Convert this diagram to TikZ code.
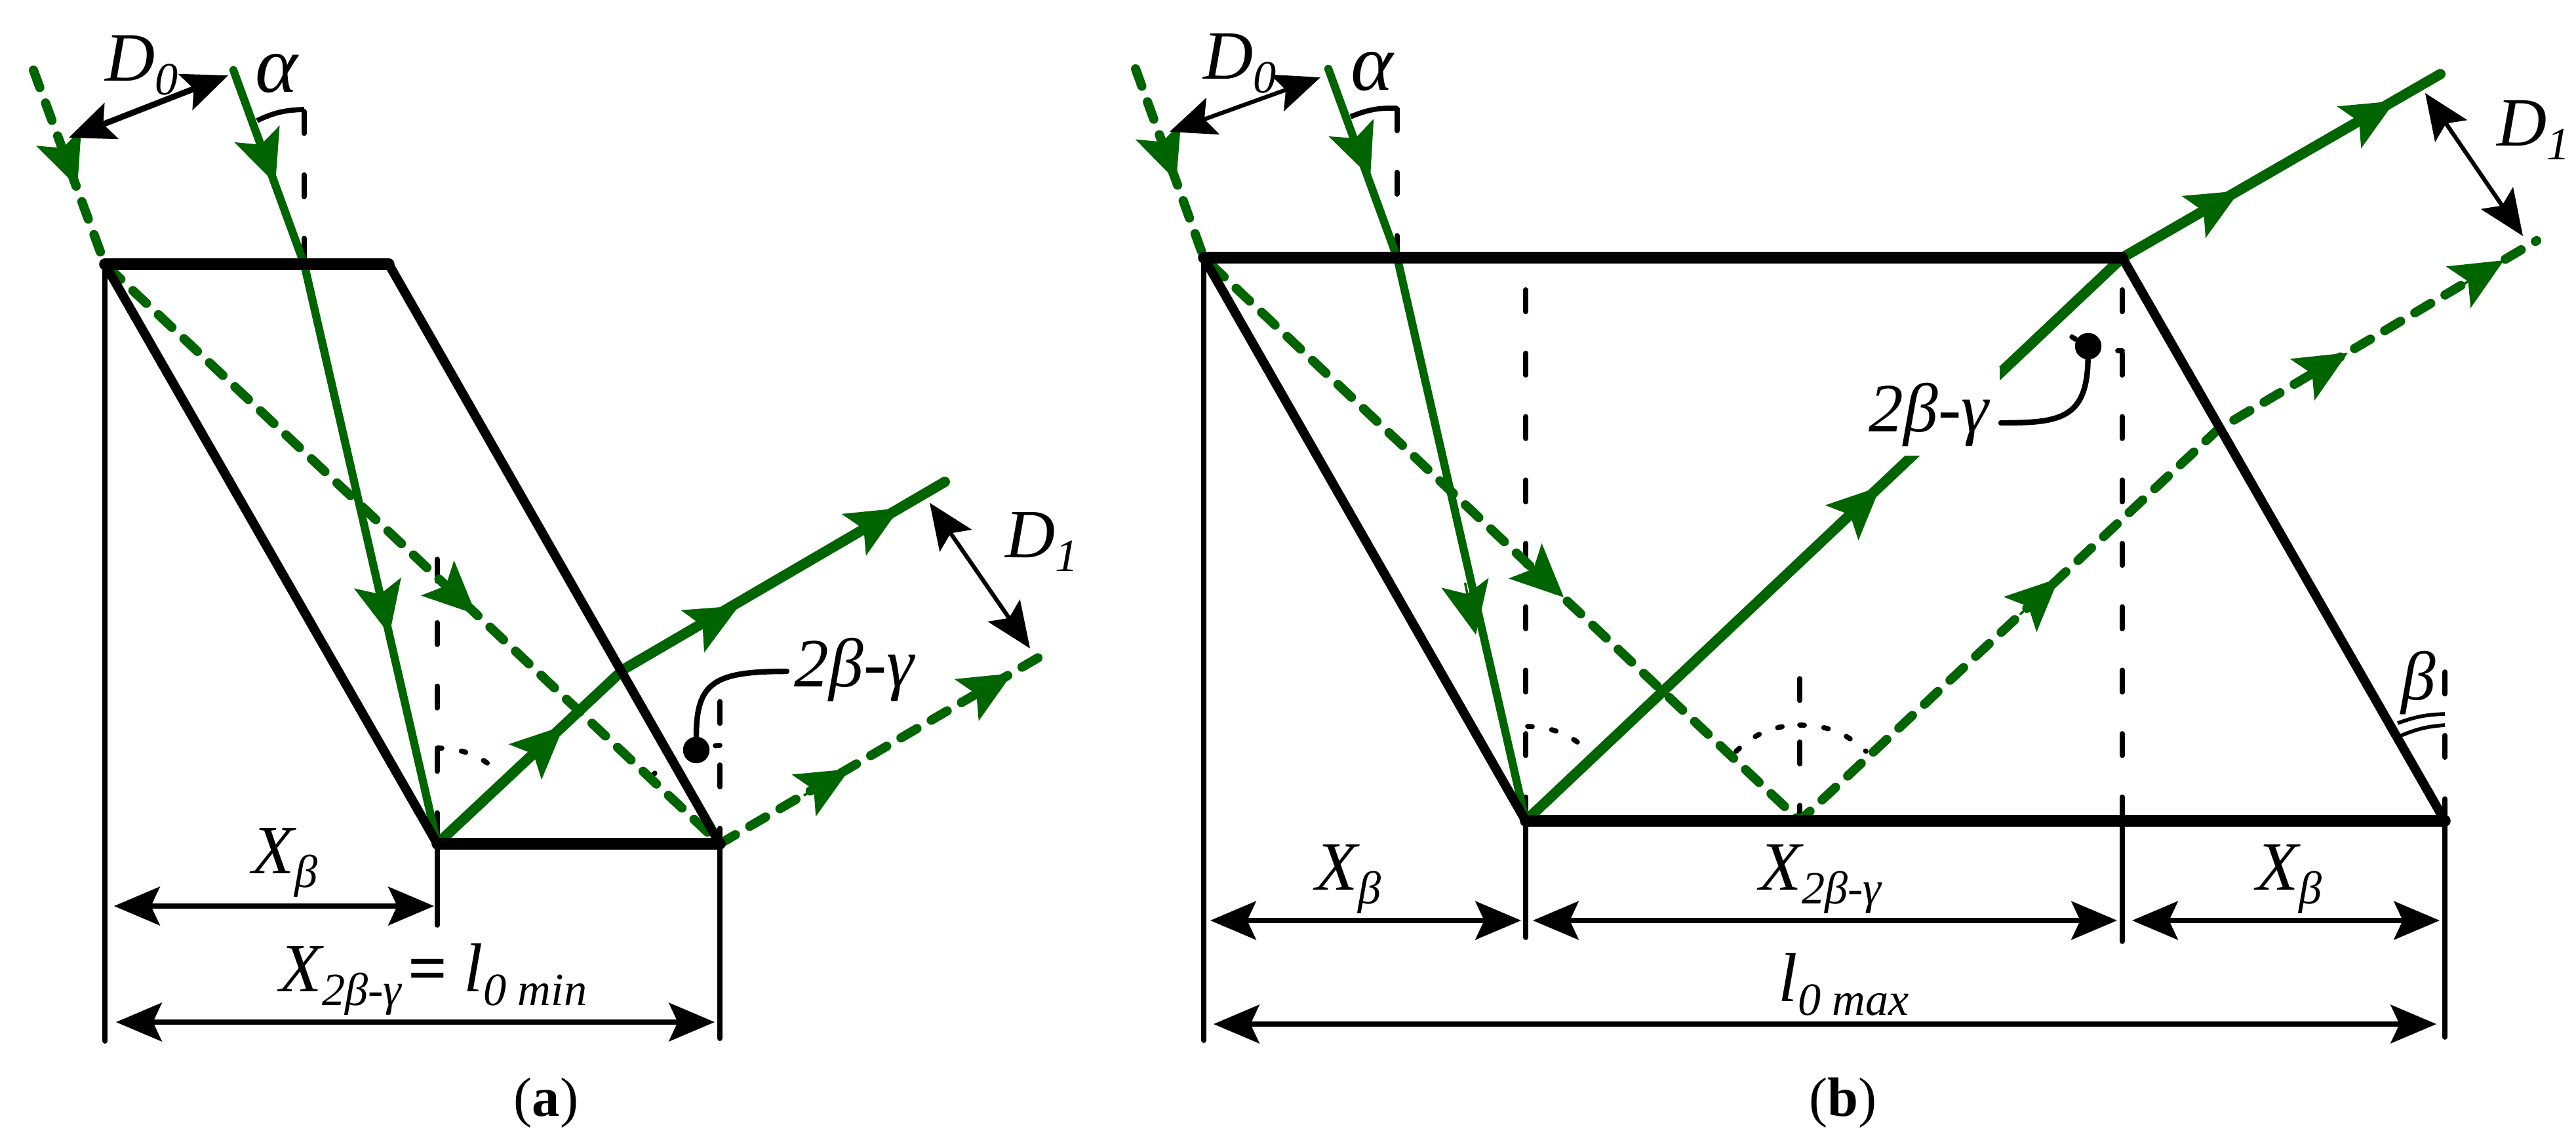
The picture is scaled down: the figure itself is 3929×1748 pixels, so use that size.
\documentclass[tikz,border=0pt]{standalone}
\usepackage{fontspec}
\setmainfont{Liberation Serif}
\usetikzlibrary{arrows.meta,calc}
\definecolor{beam}{RGB}{0,100,0}
\newcommand\bigtxt{\fontsize{30}{30}\selectfont\itshape}
\newcommand\subtxt[1]{\raisebox{-6pt}{\fontsize{20}{20}\selectfont\itshape #1}}
\tikzset{
  dimtip/.tip={Stealth[length=20pt,width=17pt,inset=4pt,line width=0pt]},
  lbl/.style={inner sep=0pt,anchor=base west,font=\bigtxt},
  capt/.style={inner sep=0pt,font=\fontsize{24}{24}\selectfont},
  prismthick/.style={line width=5pt,line cap=round,line join=round},
  prismthin/.style={line width=4pt,line cap=round,line join=round},
  beamin/.style={draw=beam,line width=3.5pt,line cap=round,line join=round},
  beamout/.style={draw=beam,line width=4.5pt,line cap=round,line join=round},
  beamdash/.style={draw=beam,line width=4pt,line cap=round,line join=round,dash pattern=on 8pt off 7.2pt},
  ext/.style={line width=2.2pt,line cap=round},
  cdash/.style={line width=2.2pt,line cap=round,dash pattern=on 9.5pt off 18pt},
  cdot/.style={line width=2.2pt,line cap=round,dash pattern=on 2pt off 8.5pt},
  solidarc/.style={line width=2.2pt},
  dimarrow/.style={line width=2.2pt,dimtip-dimtip},
  gaparrow/.style={line width=2.6pt,dimtip-dimtip},
  gaparrowthin/.style={line width=1.8pt,dimtip-dimtip},
  headtip/.style={draw=beam,line width=1pt,-{Stealth[length=23pt,width=21pt,inset=5pt,line width=0pt,fill=beam]}},
  pin/.style={circle,fill=black,inner sep=0pt,minimum size=11.5pt},
  leader/.style={line width=2.4pt,line cap=round},
}
\newcommand\beamhead[2]{\draw[headtip] ($(#2)!23pt!(#1)$) -- (#2);}
\begin{document}
\begin{tikzpicture}[x=0.01cm,y=-0.01cm]
\useasboundingbox (0,0) rectangle (3929,1748);
% ===== panel (a) =====
\coordinate (aTL) at (160,403);
\coordinate (aTR) at (593,403);
\coordinate (aBL) at (667,1287);
\coordinate (aBR) at (1098,1287);
\coordinate (aS0) at (356,107);
\coordinate (aS1) at (464,403);
\coordinate (aS2) at (951,1021);
\coordinate (aS3) at (1441,735);
\coordinate (aD0) at (51,107);
\coordinate (aD3) at (1594,997);
% extension lines
\coordinate (aE1) at (160,1588);
\coordinate (aE2) at (667,1411);
\coordinate (aE3) at (1098,1584);
\draw[ext] (aTL) -- (aE1);
\draw[ext] (aBL) -- (aE2);
\draw[ext] (aBR) -- (aE3);
\draw[cdash] (667,853) -- (aBL);
\draw[cdash] (1098,1070) -- (aBR);
\draw[cdash] (464,170) -- (aS1);
% angle marks
\draw[solidarc] (464,167) to[bend right=12] (392,184);
\draw[cdot] (667,1141) to[bend left=21] (764,1181);
\draw[cdot] (1098,1137) to[bend right=21] (997,1181);
% beams
\draw[beamdash] (aD0) -- (aTL) -- (aBR) -- (aD3);
\draw[beamin] (aS0) -- (aS1) -- (aBL);
\draw[beamout] (aBL) -- (aS2) -- (aS3);
% heads
\beamhead{aD0}{118,285}
\beamhead{aS0}{420,280}
\beamhead{aS1}{594,968}
\beamhead{aTL}{726,937}
\beamhead{aBL}{860,1107}
\beamhead{aS2}{1127,924}
\beamhead{aS2}{1372,775}
\beamhead{aBR}{1296,1173}
\beamhead{aBR}{1544,1027}
% prism
\draw[prismthin] (aTL) -- (aBL);
\draw[prismthin] (aTR) -- (aBR);
\draw[prismthick] (aTL) -- (aTR);
\draw[prismthick] (aBL) -- (aBR);
% dimensions
\coordinate (aA1) at (174,1382);
\coordinate (aA2) at (662,1382);
\coordinate (aB1) at (177,1559);
\coordinate (aB2) at (1090,1559);
\draw[dimarrow] (aA1) -- (aA2);
\draw[dimarrow] (aB1) -- (aB2);
\coordinate (aG1) at (105,210);
\coordinate (aG2) at (348,115);
\draw[gaparrow] (aG1) -- (aG2);
\coordinate (aH1) at (1418,767);
\coordinate (aH2) at (1571,989);
\draw[gaparrowthin] (aH1) -- (aH2);
% labels
\node[lbl] (aD0t) at (160,123) {D\subtxt{0}};
\node[lbl,font=\fontsize{35}{35}\selectfont\itshape] (aAlpha) at (389,140) {α};
\node[lbl] (aD1t) at (1533,850) {D\subtxt{1}};
\node[lbl] (aXb) at (384,1332) {X\subtxt{β}};
\node[lbl] (aX2) at (426,1512) {X\subtxt{2β-γ}};
\node[lbl,font=\fontsize{30}{30}\selectfont\bfseries] (aEq) at (622,1512) {=};
\node[lbl] (aL) at (707,1512) {l\subtxt{0 min}};
\node[lbl] (a2b) at (1211,1047) {2β-γ};
\node[pin] (aPin) at (1062,1144) {};
\coordinate (aLeadEnd) at (1200,1024);
\draw[leader] (aPin) .. controls (1062,1040) and (1090,1024) .. (aLeadEnd);
\node[capt] (capA) at (833,1682) {(\textbf{a})};
% ===== panel (b) =====
\coordinate (bTL) at (1836,393);
\coordinate (bTR) at (3237,393);
\coordinate (bBL) at (2327,1252);
\coordinate (bBM) at (2745,1252);
\coordinate (bBX) at (3237,1252);
\coordinate (bBR) at (3729,1252);
\coordinate (bS0) at (2026,105);
\coordinate (bS1) at (2131,393);
\coordinate (bS3) at (3722,113);
\coordinate (bD0) at (1732,105);
\coordinate (bD2) at (3383,655);
\coordinate (bD3) at (3869,367);
\coordinate (bE1) at (1836,1587);
\coordinate (bE2) at (2327,1430);
\coordinate (bE3) at (3237,1436);
\coordinate (bE4) at (3729,1582);
\draw[ext] (bTL) -- (bE1);
\draw[ext] (bBL) -- (bE2);
\draw[ext] (bBX) -- (bE3);
\draw[ext] (bBR) -- (bE4);
\draw[cdash] (2327,442) -- (bBL);
\draw[cdash] (3237,442) -- (bBX);
\draw[cdash] (2745,1035) -- (bBM);
\draw[cdash] (3729,1025) -- (bBR);
\draw[cdash] (2131,166) -- (bS1);
\draw[solidarc] (2131,165) to[bend right=12] (2060,178);
\draw[cdot] (2330,1108) to[bend left=21] (2426,1149);
\draw[cdot] (2648,1146) to[bend left=21] (2745,1106);
\draw[cdot] (2745,1106) to[bend left=21] (2846,1146);
\draw[cdot] (3237,535) to[bend left=20] (3138,497);
\draw[solidarc,line width=1.6pt] (3657,1103) to[bend left=9] (3729,1089);
\draw[solidarc,line width=1.6pt] (3662,1122) to[bend left=9] (3729,1106);
\draw[beamdash] (bD0) -- (bTL) -- (bBM) -- (bD2) -- (bD3);
\draw[beamin] (bS0) -- (bS1) -- (bBL);
\draw[beamout] (bBL) -- (bTR) -- (bS3);
\fill[white] (2845,560) rectangle (3050,695);
\beamhead{bD0}{1794,276}
\beamhead{bS0}{2090,270}
\beamhead{bS1}{2251,968}
\beamhead{bTL}{2385,911}
\beamhead{bBL}{2868,742}
\beamhead{bTR}{3416,291}
\beamhead{bTR}{3653,154}
\beamhead{bBM}{3140,882}
\beamhead{bD2}{3581,538}
\beamhead{bD2}{3819,397}
\draw[prismthin] (bTL) -- (bBL);
\draw[prismthin] (bTR) -- (bBR);
\draw[prismthick] (bTL) -- (bTR);
\draw[prismthick] (bBL) -- (bBR);
\coordinate (bA1) at (1846,1404);
\coordinate (bA2) at (2320,1404);
\coordinate (bA3) at (2338,1404);
\coordinate (bA4) at (3229,1404);
\coordinate (bA5) at (3252,1404);
\coordinate (bA6) at (3721,1404);
\coordinate (bB1) at (1851,1562);
\coordinate (bB2) at (3716,1562);
\draw[dimarrow] (bA1) -- (bA2);
\draw[dimarrow] (bA3) -- (bA4);
\draw[dimarrow] (bA5) -- (bA6);
\draw[dimarrow] (bB1) -- (bB2);
\coordinate (bG1) at (1784,201);
\coordinate (bG2) at (2014,118);
\draw[gaparrowthin] (bG1) -- (bG2);
\coordinate (bH1) at (3699,142);
\coordinate (bH2) at (3848,360);
\draw[gaparrowthin] (bH1) -- (bH2);
\node[lbl] (bD0t) at (1835,120) {D\subtxt{0}};
\node[lbl,font=\fontsize{35}{35}\selectfont\itshape] (bAlpha) at (2060,137) {α};
\node[lbl] (bD1t) at (3808,222) {D\subtxt{1}};
\node[lbl] (bXb) at (2006,1357) {X\subtxt{β}};
\node[lbl] (bX2) at (2683,1357) {X\subtxt{2β-γ}};
\node[lbl] (bXc) at (3441,1357) {X\subtxt{β}};
\node[lbl] (bL) at (2712,1527) {l\subtxt{0 max}};
\node[lbl] (bBeta) at (3662,1067) {β};
\node[lbl] (b2b) at (2850,658) {2β-γ};
\node[pin] (bPin) at (3185,528) {};
\coordinate (bLeadEnd) at (3052,645);
\draw[leader] (bPin) .. controls (3183,640) and (3140,645) .. (bLeadEnd);
\node[capt] (capB) at (2811,1682) {(\textbf{b})};
\end{tikzpicture}
\end{document}
